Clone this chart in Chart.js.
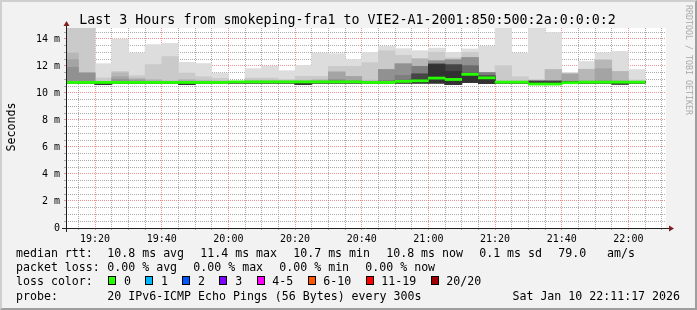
<!DOCTYPE html>
<html>
<head>
<meta charset="utf-8">
<script src="https://cdn.jsdelivr.net/npm/chart.js@4.4.0/dist/chart.umd.min.js"></script>
<style>
html, body { margin: 0; padding: 0; }
body { width: 697px; height: 310px; background: #f2f2f2; position: relative; overflow: hidden;
  font-family: 'DejaVu Sans Mono', monospace; color: #000; }
#frame { position: absolute; left: 0; top: 0; width: 697px; height: 310px; box-sizing: border-box;
  border-top: 2px solid #cfcfcf; border-left: 2px solid #cfcfcf;
  border-right: 2px solid #9e9e9e; border-bottom: 2px solid #9e9e9e; }
#chart { position: absolute; left: 0; top: 0; }
.txt { position: absolute; white-space: pre; line-height: 1; font-size: 11.6px; }
#title { position: absolute; left: 0; top: 12.8px; width: 695px; text-align: center; font-size: 13.3px; line-height: 1; white-space: pre; }
#vlabel { position: absolute; left: -39.5px; top: 120px; width: 100px; height: 14px; line-height: 14px;
  text-align: center; font-size: 11.6px; transform: rotate(-90deg); }
#mark { position: absolute; left: 628.5px; top: 55px; width: 120px; height: 10px; line-height: 10px;
  text-align: center; font-size: 8.3px; color: #aaa; transform: rotate(90deg); white-space: pre; }
.item { display: inline-block; margin-right: 16.2px; }
.box { display: inline-block; width: 8px; height: 9px; box-sizing: border-box; border: 1px solid #000; }
.lbl { display: inline-block; margin-left: 7.7px; margin-right: 14.4px; }
</style>
</head>
<body>
<canvas id="chart" width="697" height="250"></canvas>
<div id="title"></div>
<div id="vlabel">Seconds</div>
<div id="mark">RRDTOOL / TOBI OETIKER</div>
<div id="legend"></div>
<div id="frame"></div>
<script>
// 5 minute steps, start time of each step
const slots = [
  '19:10', '19:15', '19:20', '19:25', '19:30', '19:35', '19:40', '19:45', '19:50', '19:55',
  '20:00', '20:05', '20:10', '20:15', '20:20', '20:25', '20:30', '20:35', '20:40', '20:45', '20:50', '20:55',
  '21:00', '21:05', '21:10', '21:15', '21:20', '21:25', '21:30', '21:35', '21:40', '21:45', '21:50', '21:55',
  '22:00'
];

// median rtt (ms)
const median = [
  10.78, 10.78, 10.78, 10.78, 10.78, 10.78, 10.78, 10.78, 10.78, 10.78,
  10.82, 10.82, 10.82, 10.82, 10.82, 10.82, 10.82, 10.82, 10.78, 10.78, 10.86, 10.9,
  11.1, 11.0, 11.38, 11.12, 10.8, 10.8, 10.66, 10.66, 10.76, 10.8, 10.8, 10.8,
  10.8
];

// sorted pings of each step (ms): lowest, then the upper half
const rtt1 = [
  10.74, 10.74, 10.62, 10.74, 10.74, 10.74, 10.74, 10.62, 10.74, 10.74,
  10.74, 10.74, 10.74, 10.74, 10.62, 10.74, 10.74, 10.74, 10.74, 10.74, 10.74, 10.74,
  10.74, 10.62, 10.78, 10.7, 10.74, 10.74, 10.62, 10.62, 10.74, 10.74, 10.74, 10.66,
  10.74
];
const rtt11 = [
  10.82, 10.82, 10.84, 10.84, 10.84, 10.84, 10.84, 10.84, 10.84, 10.84,
  10.84, 10.86, 10.86, 10.86, 10.86, 10.86, 10.86, 10.86, 10.84, 10.84, 10.9, 11.0,
  12.1, 11.6, 11.45, 11.2, 10.84, 10.84, 10.8, 10.8, 10.84, 10.86, 10.86, 10.86,
  10.86
];
const rtt12 = [
  10.82, 10.82, 10.84, 10.84, 10.84, 10.84, 10.84, 10.84, 10.84, 10.84,
  10.84, 10.86, 10.86, 10.86, 10.86, 10.86, 10.86, 10.86, 10.84, 10.84, 10.9, 11.4,
  12.13, 12.07, 11.46, 11.26, 10.84, 10.84, 10.86, 10.86, 10.84, 10.86, 10.86, 10.86,
  10.86
];
const rtt13 = [
  10.82, 10.82, 10.84, 10.84, 10.84, 10.84, 10.84, 10.84, 10.84, 10.84,
  10.84, 10.86, 10.86, 10.86, 10.86, 10.86, 10.86, 10.86, 10.84, 10.84, 10.9, 11.41,
  12.14, 12.08, 11.47, 11.27, 10.84, 10.84, 10.88, 10.88, 10.84, 10.86, 10.86, 10.86,
  10.86
];
const rtt14 = [
  10.82, 10.82, 10.84, 10.84, 10.84, 10.84, 10.84, 10.84, 10.84, 10.84,
  10.84, 10.86, 10.86, 10.86, 10.86, 10.86, 10.86, 10.86, 10.84, 10.84, 10.95, 11.42,
  12.15, 12.09, 12.01, 11.28, 10.84, 10.84, 10.88, 10.88, 10.84, 10.86, 10.86, 10.86,
  10.86
];
const rtt15 = [
  10.86, 10.86, 10.84, 10.84, 10.84, 10.84, 10.84, 10.84, 10.84, 10.84,
  10.84, 10.86, 10.86, 10.86, 10.86, 10.86, 10.92, 10.86, 10.84, 10.92, 11.3, 11.96,
  12.16, 12.1, 12.02, 11.49, 10.84, 10.84, 10.88, 10.88, 10.84, 10.86, 10.86, 10.86,
  10.86
];
const rtt16 = [
  11.9, 11.48, 10.84, 11.0, 10.9, 10.84, 10.84, 10.84, 10.84, 10.84,
  10.84, 10.86, 10.86, 10.86, 10.86, 10.86, 11.0, 10.92, 10.84, 11.73, 12.15, 11.97,
  12.37, 12.44, 12.62, 11.5, 10.84, 10.84, 10.88, 10.88, 10.88, 10.86, 10.9, 10.86,
  10.86
];
const rtt17 = [
  12.47, 11.48, 10.84, 11.2, 11.0, 10.9, 10.84, 10.9, 10.84, 10.84,
  10.84, 10.86, 10.86, 10.86, 10.86, 10.92, 11.55, 11.22, 10.84, 11.74, 12.16, 11.98,
  12.38, 12.45, 12.63, 11.51, 10.84, 10.84, 10.88, 10.9, 11.4, 10.9, 11.8, 10.9,
  10.86
];
const rtt18 = [
  12.96, 11.48, 10.84, 11.5, 11.1, 11.0, 10.9, 11.0, 10.95, 10.9,
  10.84, 10.95, 10.95, 10.92, 10.95, 11.0, 11.56, 11.23, 10.95, 11.75, 12.17, 12.52,
  12.39, 12.5, 12.64, 11.52, 10.88, 10.88, 10.88, 11.73, 11.42, 11.75, 12.44, 11.59,
  10.86
];
const rtt19 = [
  15.2, 15.2, 11.11, 11.6, 11.28, 12.1, 12.7, 11.47, 11.2, 11.08,
  10.84, 11.1, 11.1, 11.0, 11.23, 11.23, 11.97, 11.97, 12.25, 13.13, 12.79, 12.55,
  13.02, 12.6, 13.0, 11.53, 12.02, 11.2, 10.99, 11.74, 11.45, 11.76, 12.45, 11.6,
  10.96
];
const rtt20 = [
  15.5, 15.5, 12.17, 14.0, 12.96, 13.58, 13.67, 12.27, 12.18, 11.47,
  10.88, 11.8, 11.97, 11.65, 12.04, 12.96, 12.91, 12.47, 13.0, 13.45, 13.28, 13.13,
  13.32, 13.0, 13.26, 13.45, 15.5, 12.95, 15.5, 14.48, 11.53, 12.33, 12.98, 13.08,
  11.73
];

const windowStart = '19:11:17'; // 3 hours shown
const yMax = 14.81;

const titleText = 'Last 3 Hours from smokeping-fra1 to VIE2-A1-2001:850:500:2a:0:0:0:2';
const rttStats = ['10.8 ms avg', '11.4 ms max', '10.7 ms min', '10.8 ms now', '0.1 ms sd', '79.0   am/s'];
const lossStats = ['0.00 % avg', '0.00 % max', '0.00 % min', '0.00 % now'];
const lossLabels = ['0', '1', '2', '3', '4-5', '6-10', '11-19', '20/20'];
const lossColors = ['#26ff00', '#00b8ff', '#0059ff', '#7e00ff', '#ff00ff', '#ff5500', '#ff0000', '#a10000'];
const probeText = '20 IPv6-ICMP Echo Pings (56 Bytes) every 300s';
const dateText = 'Sat Jan 10 22:11:17 2026';

// minutes since 19:00
function toMin(s) {
  const p = s.split(':').map(Number);
  return (p[0] - 19) * 60 + p[1] + (p[2] || 0) / 60;
}
function fmt(v) {
  const h = 19 + Math.floor(v / 60), m = v % 60;
  return h + ':' + String(m).padStart(2, '0');
}

const xStart = toMin(windowStart);
const xEnd = xStart + 180;

const minorGrid = 'rgba(143,143,143,0.75)';
const majorGrid = 'rgba(222,79,79,0.6)';

// smoke bands, outermost (lightest) first
const smokeTops = [rtt20, rtt19, rtt18, rtt17, rtt16, rtt15, rtt14, rtt13, rtt12, rtt11];
const datasets = [];
datasets.push({
  label: 'median',
  data: slots.map((s, i) => ({ x: toMin(s) + 2.5, y: [median[i] - 0.08, median[i] + 0.08] })),
  backgroundColor: lossColors[0],
  order: 0
});
smokeTops.forEach((tops, k) => {
  const g = Math.floor(190 / 10 * (9 - k)) + 50;
  datasets.push({
    label: 'smoke' + (k + 1),
    data: slots.map((s, i) => ({ x: toMin(s) + 2.5, y: [rtt1[i], tops[i]] })),
    backgroundColor: 'rgb(' + g + ',' + g + ',' + g + ')',
    order: 10 - k
  });
});

const canvasBg = {
  id: 'canvasBg',
  beforeDraw(chart) {
    const { ctx, chartArea: a } = chart;
    ctx.save();
    ctx.fillStyle = '#ffffff';
    ctx.fillRect(a.left, a.top, a.right - a.left, a.bottom - a.top);
    ctx.restore();
  }
};

const axisArrows = {
  id: 'axisArrows',
  afterDraw(chart) {
    const { ctx, chartArea: a } = chart;
    const x0 = Math.round(a.left) + 0.5, y0 = Math.round(a.bottom) + 0.5;
    ctx.save();
    ctx.strokeStyle = '#1f1f1f';
    ctx.lineWidth = 1;
    ctx.beginPath();
    ctx.moveTo(a.left - 4, y0); ctx.lineTo(a.right + 3, y0);
    ctx.moveTo(x0, a.bottom + 4); ctx.lineTo(x0, a.top - 2);
    ctx.stroke();
    ctx.fillStyle = '#801f1f';
    ctx.beginPath();
    ctx.moveTo(a.right + 3, y0 - 3); ctx.lineTo(a.right + 8, y0); ctx.lineTo(a.right + 3, y0 + 3);
    ctx.closePath(); ctx.fill();
    ctx.beginPath();
    ctx.moveTo(x0 - 3, a.top - 2); ctx.lineTo(x0, a.top - 7); ctx.lineTo(x0 + 3, a.top - 2);
    ctx.closePath(); ctx.fill();
    ctx.restore();
  }
};

const tickFont = { family: 'DejaVu Sans Mono', size: 10 };

new Chart(document.getElementById('chart'), {
  type: 'bar',
  data: { datasets: datasets },
  options: {
    responsive: false,
    animation: false,
    events: [],
    layout: { padding: { left: 0, right: 31, top: 28, bottom: 0 } },
    plugins: { legend: { display: false }, tooltip: { enabled: false } },
    datasets: {
      bar: { grouped: false, barPercentage: 1, categoryPercentage: 1, borderWidth: 0, clip: 0 }
    },
    scales: {
      x: {
        type: 'linear',
        min: xStart,
        max: xEnd,
        offset: false,
        z: 1,
        afterBuildTicks: scale => {
          const t = [];
          for (let v = Math.ceil(xStart / 5) * 5; v <= xEnd; v += 5) t.push({ value: v });
          scale.ticks = t;
        },
        afterFit: scale => { scale.height = 22; },
        grid: {
          offset: false,
          tickLength: 2,
          color: c => (c.tick && c.tick.value % 20 === 0) ? majorGrid : minorGrid,
          tickColor: c => (c.tick && c.tick.value % 20 === 0) ? majorGrid : minorGrid
        },
        border: { display: false, dash: [1, 1] },
        ticks: {
          autoSkip: false,
          maxRotation: 0,
          padding: 3,
          font: tickFont,
          color: '#000',
          callback: v => v % 20 === 0 ? fmt(v) : ''
        }
      },
      y: {
        min: 0,
        max: yMax,
        z: 1,
        afterBuildTicks: scale => {
          const t = [];
          for (let k = 0; k * 0.5 < yMax; k++) t.push({ value: k * 0.5 });
          scale.ticks = t;
        },
        afterFit: scale => { scale.width = 66; },
        grid: {
          tickLength: 2,
          color: c => (c.tick && c.tick.value % 2 === 0) ? majorGrid : minorGrid,
          tickColor: c => (c.tick && c.tick.value % 2 === 0) ? majorGrid : minorGrid
        },
        border: { display: false, dash: [1, 1] },
        ticks: {
          autoSkip: false,
          padding: 4,
          font: tickFont,
          color: '#000',
          callback: v => v % 2 === 0 ? (v === 0 ? '0' : v + ' m') : ''
        }
      }
    }
  },
  plugins: [canvasBg, axisArrows]
});

// title and legend text
document.getElementById('title').textContent = titleText;

const legend = document.getElementById('legend');
function addText(text, left, top, extra) {
  const d = document.createElement('div');
  d.className = 'txt';
  d.style.left = left + 'px';
  d.style.top = top + 'px';
  if (extra) Object.assign(d.style, extra);
  d.textContent = text;
  legend.appendChild(d);
  return d;
}
function addRow(items, left, top) {
  const d = addText('', left, top);
  items.forEach(s => {
    const sp = document.createElement('span');
    sp.className = 'item';
    sp.textContent = s;
    d.appendChild(sp);
  });
}

const rowTop = [248, 262.2, 276.4, 290.6];
addText('median rtt:', 16, rowTop[0]);
addRow(rttStats, 107.3, rowTop[0]);
addText('packet loss:', 16, rowTop[1]);
addRow(lossStats, 107.3, rowTop[1]);
addText('loss color:', 16, rowTop[2]);
const lc = addText('', 108.3, rowTop[2]);
lossLabels.forEach((l, i) => {
  const b = document.createElement('span');
  b.className = 'box';
  b.style.background = lossColors[i];
  lc.appendChild(b);
  const t = document.createElement('span');
  t.className = 'lbl';
  t.textContent = l;
  lc.appendChild(t);
});
addText('probe:', 16, rowTop[3]);
addText(probeText, 107.3, rowTop[3]);
addText(dateText, 0, rowTop[3], { left: 'auto', right: '17px' });
</script>
</body>
</html>
